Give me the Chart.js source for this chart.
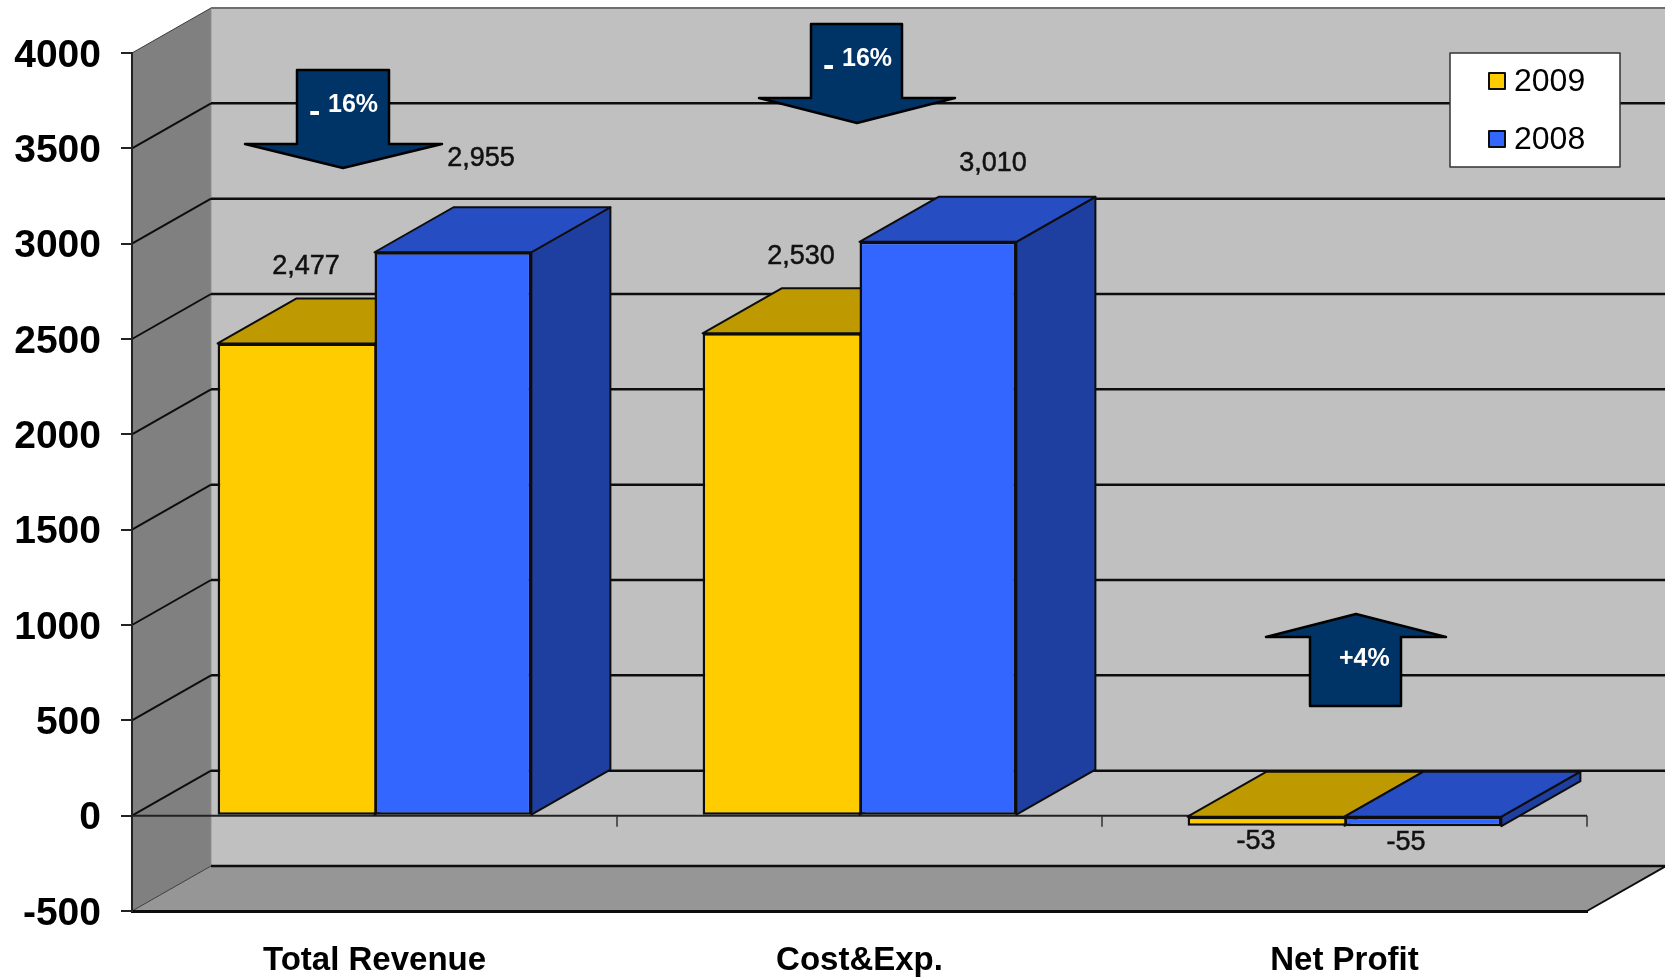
<!DOCTYPE html>
<html>
<head>
<meta charset="utf-8">
<style>
  html, body { margin: 0; padding: 0; background: #ffffff; }
  canvas { display: block; }
</style>
<script src="https://cdn.jsdelivr.net/npm/chart.js@4/dist/chart.umd.min.js"></script>
</head>
<body>
<canvas id="chart" width="1665" height="977"></canvas>
<script>
const categories = ["Total Revenue", "Cost&Exp.", "Net Profit"]
const seriesNames = ["2009", "2008"]
const values2009 = [2477, 2530, -53]
const values2008 = [2955, 3010, -55]
const valueLabels2009 = ["2,477", "2,530", "-53"]
const valueLabels2008 = ["2,955", "3,010", "-55"]

const FONT = '"Liberation Sans", Arial, sans-serif'
const DEPTH_X = 79
const DEPTH_Y = -45
const INK = "#0d0d0d"

// front, top, side colours for each series
const faces = [
  { front: "#ffcc00", top: "#bf9900", side: "#a88600" },
  { front: "#3366ff", top: "#264dc1", side: "#1f3fa0" }
]

// where each value label sits relative to the top centre of its bar
const labelOffsets = [
  [[10, -77], [20, -77], [-10, 16]],
  [[28, -94], [55, -78], [-17, 16]]
]

// the callout arrows are pasted on top of the chart, so they are page coordinates
const arrows = [
  { shape: [[297, 70], [389, 70], [389, 144], [442, 144], [343, 168], [245, 144], [297, 144]], dash: [309, 122], text: "16%", at: [328, 112] },
  { shape: [[811, 24], [902, 24], [902, 98], [955, 98], [857, 123], [759, 98], [811, 98]], dash: [823, 76], text: "16%", at: [842, 66] },
  { shape: [[1310, 706], [1401, 706], [1401, 637], [1446, 637], [1356, 614], [1266, 637], [1310, 637]], text: "+4%", at: [1339, 666] }
]

const LEGEND_BOX = { x: 1450, y: 53, w: 170, h: 114 }
const LEGEND_ROWS = [81, 139]

function polygon(ctx, points, fill, stroke, width) {
  ctx.beginPath()
  points.forEach(([x, y], i) => i ? ctx.lineTo(x, y) : ctx.moveTo(x, y))
  ctx.closePath()
  if (fill) {
    ctx.fillStyle = fill
    ctx.fill()
  }
  if (stroke) {
    ctx.strokeStyle = stroke
    ctx.lineWidth = width
    ctx.stroke()
  }
}

function line(ctx, x1, y1, x2, y2, color, width) {
  ctx.beginPath()
  ctx.moveTo(x1, y1)
  ctx.lineTo(x2, y2)
  ctx.strokeStyle = color
  ctx.lineWidth = width
  ctx.stroke()
}

const room3d = {
  id: "room3d",

  // walls, floor, gridlines and the zero axis sit behind everything
  beforeDraw(chart) {
    const { ctx, scales: { x, y } } = chart
    const left = x.left, right = x.right
    const top = y.top, bottom = y.bottom
    const backLeft = left + DEPTH_X, backRight = right + DEPTH_X

    ctx.save()
    ctx.lineJoin = "miter"
    polygon(ctx, [[backLeft, top + DEPTH_Y], [backRight, top + DEPTH_Y], [backRight, bottom + DEPTH_Y], [backLeft, bottom + DEPTH_Y]], "#c0c0c0")
    polygon(ctx, [[left, top], [backLeft, top + DEPTH_Y], [backLeft, bottom + DEPTH_Y], [left, bottom]], "#808080")
    polygon(ctx, [[left, bottom], [backLeft, bottom + DEPTH_Y], [backRight, bottom + DEPTH_Y], [right, bottom]], "#969696")

    line(ctx, backLeft, top + DEPTH_Y, backRight, top + DEPTH_Y, "#6e6e6e", 2)
    line(ctx, backRight, top + DEPTH_Y, backRight, bottom + DEPTH_Y, "#8a8a8a", 1.5)
    line(ctx, backLeft, top + DEPTH_Y, backLeft, bottom + DEPTH_Y, "#8f8f8f", 1)

    y.ticks.forEach(tick => {
      const py = y.getPixelForValue(tick.value)
      const isEdge = tick.value === y.max
      if (!isEdge) {
        line(ctx, backLeft, py + DEPTH_Y, backRight, py + DEPTH_Y, INK, 2.5)
      }
      line(ctx, left, py, backLeft, py + DEPTH_Y, isEdge || tick.value === y.min ? "#3a3a3a" : INK, isEdge || tick.value === y.min ? 1 : 2)
    })
    line(ctx, right, bottom, backRight, bottom + DEPTH_Y, INK, 2)

    // zero line at the front of the room, ticked between the categories
    const zero = y.getPixelForValue(0)
    line(ctx, left, zero, right, zero, "#222222", 2)
    const step = x.width / categories.length
    for (let i = 1; i <= categories.length; i++) {
      line(ctx, left + step * i, zero, left + step * i, zero + 11, "#333333", 1.5)
    }
    ctx.restore()
  },

  // tops and sides go down first, left to right, the library paints the fronts over them
  beforeDatasetsDraw(chart) {
    const { ctx } = chart
    ctx.save()
    ctx.lineJoin = "round"
    categories.forEach((_, i) => {
      faces.forEach((face, s) => {
        const bar = chart.getDatasetMeta(s).data[i]
        const l = bar.x - bar.width / 2
        const r = bar.x + bar.width / 2
        const t = Math.min(bar.y, bar.base)
        const b = Math.max(bar.y, bar.base)
        polygon(ctx, [[r, t], [r, b], [r + DEPTH_X, b + DEPTH_Y], [r + DEPTH_X, t + DEPTH_Y]], face.side, INK, 2)
        polygon(ctx, [[l, t], [r, t], [r + DEPTH_X, t + DEPTH_Y], [l + DEPTH_X, t + DEPTH_Y]], face.top, INK, 2)
      })
    })
    ctx.restore()
  },

  afterDatasetsDraw(chart) {
    const { ctx } = chart
    ctx.save()

    // value labels
    ctx.font = `27px ${FONT}`
    ctx.fillStyle = "#111111"
    ctx.strokeStyle = "#111111"
    ctx.lineWidth = 0.5
    ctx.textAlign = "center"
    ctx.textBaseline = "middle"
    ;[valueLabels2009, valueLabels2008].forEach((labels, s) => {
      chart.getDatasetMeta(s).data.forEach((bar, i) => {
        const [dx, dy] = labelOffsets[s][i]
        ctx.fillText(labels[i], bar.x + dx, bar.y + dy)
        ctx.strokeText(labels[i], bar.x + dx, bar.y + dy)
      })
    })

    // callout arrows
    ctx.lineJoin = "round"
    ctx.textAlign = "left"
    ctx.textBaseline = "alphabetic"
    arrows.forEach(arrow => {
      polygon(ctx, arrow.shape, "#003366", "#000000", 2.5)
      ctx.fillStyle = "#ffffff"
      if (arrow.dash) {
        ctx.font = `bold 34px ${FONT}`
        ctx.fillText("-", arrow.dash[0], arrow.dash[1])
      }
      ctx.font = `bold 25px ${FONT}`
      ctx.fillText(arrow.text, arrow.at[0], arrow.at[1])
    })

    // legend
    const box = LEGEND_BOX
    ctx.fillStyle = "#ffffff"
    ctx.fillRect(box.x, box.y, box.w, box.h)
    ctx.strokeStyle = "#333333"
    ctx.lineWidth = 1.5
    ctx.strokeRect(box.x, box.y, box.w, box.h)
    ctx.font = `32px ${FONT}`
    ctx.textBaseline = "middle"
    chart.data.datasets.forEach((set, s) => {
      const rowY = LEGEND_ROWS[s]
      ctx.fillStyle = set.backgroundColor
      ctx.fillRect(box.x + 39, rowY - 8, 16, 16)
      ctx.strokeStyle = INK
      ctx.lineWidth = 2
      ctx.strokeRect(box.x + 39, rowY - 8, 16, 16)
      ctx.fillStyle = "#000000"
      ctx.fillText(set.label, box.x + 64, rowY + 1)
    })
    ctx.restore()
  }
}

new Chart(document.getElementById("chart"), {
  type: "bar",
  data: {
    labels: categories,
    datasets: [
      {
        label: seriesNames[0],
        data: values2009,
        backgroundColor: faces[0].front,
        // the bars touch, so only the right-hand one draws the shared edge
        borderWidth: { top: 2.5, right: 0, bottom: 2.5, left: 2.5 }
      },
      {
        label: seriesNames[1],
        data: values2008,
        backgroundColor: faces[1].front,
        borderWidth: 2.5
      }
    ]
  },
  plugins: [room3d],
  options: {
    responsive: false,
    animation: false,
    categoryPercentage: 0.647,
    barPercentage: 1,
    layout: { padding: { top: 53, right: 78, bottom: 0, left: 0 } },
    datasets: {
      bar: { borderColor: INK, borderSkipped: false }
    },
    plugins: {
      legend: { display: false },
      tooltip: { enabled: false }
    },
    scales: {
      x: {
        grid: { display: false },
        border: { color: INK, width: 3 },
        ticks: {
          color: "#000000",
          padding: 22,
          maxRotation: 0,
          font: { family: FONT, size: 33, weight: "bold" }
        },
        afterFit(scale) { scale.height = 66 }
      },
      y: {
        min: -500,
        max: 4000,
        grid: { drawOnChartArea: false, color: "#222222", lineWidth: 2, tickLength: 11 },
        border: { color: "#222222", width: 2 },
        ticks: {
          stepSize: 500,
          color: "#000000",
          padding: 20,
          labelOffset: 3,
          callback: value => String(value),
          font: { family: FONT, size: 39, weight: "bold" }
        },
        afterFit(scale) { scale.width = 132 }
      }
    }
  }
})
</script>
</body>
</html>
